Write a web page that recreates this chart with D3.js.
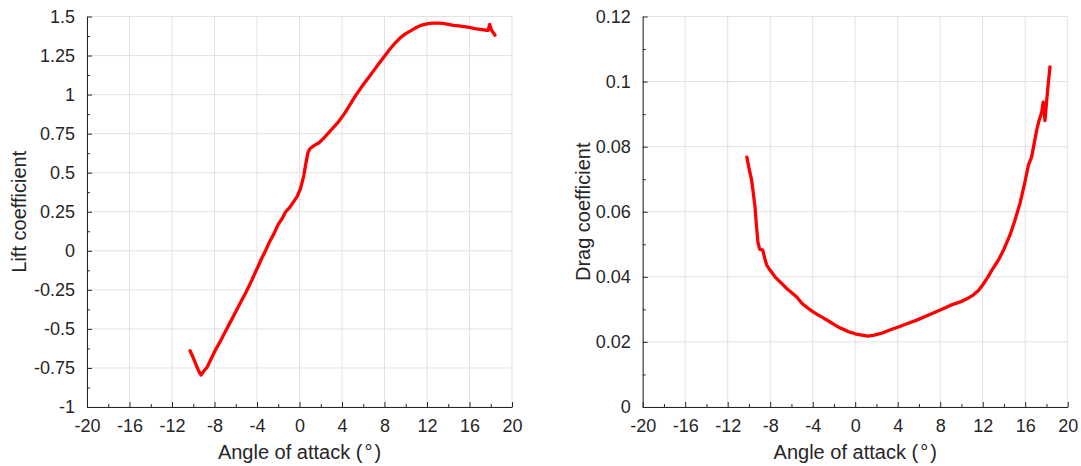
<!DOCTYPE html>
<html>
<head>
<meta charset="utf-8">
<script src="https://cdn.jsdelivr.net/npm/d3@7"></script>
<style>
html,body{margin:0;padding:0;background:#fff;}
svg{display:block;}
text{font-family:"Liberation Sans",Arial,Helvetica,sans-serif;fill:#262626;}
</style>
</head>
<body>
<svg id="chart" width="1081" height="466"></svg>
<script>
// ---- data ----
const liftAlpha = [-10.3,-10.0,-9.7,-9.45,-9.27,-9.0,-8.7,-8.3,-7.95,-7.5,-7.0,-6.5,-6.0,-5.5,-5.0,-4.5,-4.0,-3.5,-3.2,-2.8,-2.4,-2.0,-1.6,-1.3,-0.9,-0.5,-0.2,0.1,0.4,0.6,0.8,1.0,1.4,1.8,2.2,2.6,3.0,3.6,4.2,4.8,5.2,5.8,6.4,7.0,7.5,8.0,8.5,9.0,9.5,10.0,10.5,11.0,11.5,12.0,12.5,13.0,13.5,14.0,14.5,15.0,15.5,16.0,16.5,17.0,17.5,17.75,17.9,18.05,18.4];
const liftCoef = [-0.64,-0.685,-0.735,-0.775,-0.795,-0.77,-0.745,-0.69,-0.64,-0.585,-0.52,-0.455,-0.39,-0.325,-0.26,-0.19,-0.115,-0.04,0.0,0.06,0.11,0.17,0.21,0.25,0.28,0.32,0.35,0.40,0.48,0.56,0.63,0.655,0.675,0.69,0.715,0.745,0.775,0.82,0.875,0.94,0.985,1.045,1.10,1.155,1.20,1.245,1.29,1.33,1.365,1.39,1.41,1.43,1.445,1.453,1.457,1.458,1.456,1.45,1.443,1.44,1.435,1.43,1.423,1.418,1.412,1.412,1.45,1.415,1.38];

const dragAlpha = [-10.2,-10.0,-9.75,-9.6,-9.43,-9.3,-9.15,-9.0,-8.7,-8.5,-8.33,-8.0,-7.55,-7.0,-6.5,-6.0,-5.5,-5.0,-4.5,-4.0,-3.5,-3.0,-2.4,-2.0,-1.5,-1.0,-0.5,0.0,0.5,1.2,1.8,2.6,3.2,4.0,4.8,5.8,6.8,8.0,9.0,9.9,10.6,11.1,11.6,12.06,12.5,12.85,13.47,14.0,14.56,15.0,15.5,15.9,16.3,16.6,17.08,17.3,17.55,17.7,17.86,18.1,18.33];
const dragCoef = [0.0768,0.0735,0.0697,0.066,0.0615,0.056,0.0505,0.0485,0.0482,0.0455,0.0436,0.042,0.0400,0.0382,0.0366,0.0352,0.0338,0.0318,0.0305,0.0293,0.0283,0.0274,0.0262,0.0254,0.0244,0.0237,0.0230,0.0225,0.0222,0.0218,0.0221,0.0228,0.0236,0.0245,0.0255,0.0267,0.0281,0.0298,0.0313,0.0323,0.0334,0.0344,0.0358,0.0378,0.0400,0.042,0.0451,0.0485,0.0528,0.057,0.0625,0.068,0.0743,0.0768,0.085,0.088,0.0906,0.0937,0.088,0.097,0.1045];

const xTicks = [-20,-16,-12,-8,-4,0,4,8,12,16,20];
const xTickLabels = ["-20","-16","-12","-8","-4","0","4","8","12","16","20"];
const xMinorTicks = [-18,-14,-10,-6,-2,2,6,10,14,18];
const liftTicks = [-1,-0.75,-0.5,-0.25,0,0.25,0.5,0.75,1,1.25,1.5];
const liftTickLabels = ["-1","-0.75","-0.5","-0.25","0","0.25","0.5","0.75","1","1.25","1.5"];
const liftMinorTicks = [-0.875,-0.625,-0.375,-0.125,0.125,0.375,0.625,0.875,1.125,1.375];
const dragTicks = [0,0.02,0.04,0.06,0.08,0.1,0.12];
const dragTickLabels = ["0","0.02","0.04","0.06","0.08","0.1","0.12"];
const dragMinorTicks = [0.01,0.03,0.05,0.07,0.09,0.11];

// ---- drawing ----
const svg = d3.select("#chart");

function panel(cfg){
  const g = svg.append("g");
  const x = d3.scaleLinear().domain([-20,20]).range([cfg.left, cfg.right]);
  const y = d3.scaleLinear().domain(cfg.yDomain).range([cfg.bottom, cfg.top]);

  // grid
  g.append("g").selectAll("line").data(xTicks).join("line")
    .attr("x1", d=>x(d)).attr("x2", d=>x(d)).attr("y1", cfg.top).attr("y2", cfg.bottom)
    .attr("stroke","#e2e2e2").attr("stroke-width",1);
  g.append("g").selectAll("line").data(cfg.yTicks).join("line")
    .attr("y1", d=>y(d)).attr("y2", d=>y(d)).attr("x1", cfg.left).attr("x2", cfg.right)
    .attr("stroke","#e2e2e2").attr("stroke-width",1);

  // axes
  const xAxis = d3.axisBottom(x).tickValues(xTicks).tickFormat((d,i)=>xTickLabels[i]).tickSizeInner(-5).tickSizeOuter(0).tickPadding(12);
  const gx = g.append("g").attr("transform",`translate(0,${cfg.bottom})`).call(xAxis);
  gx.selectAll("text").style("font-size","18px").attr("fill","#262626").attr("dy","0.71em");
  gx.selectAll("line").attr("stroke","#262626");
  gx.select(".domain").attr("stroke","#262626");
  const xMinor = d3.axisBottom(x).tickValues(xMinorTicks).tickFormat("").tickSizeInner(-3).tickSizeOuter(0);
  const gxm = g.append("g").attr("transform",`translate(0,${cfg.bottom})`).call(xMinor);
  gxm.select(".domain").remove();
  gxm.selectAll("line").attr("stroke","#262626");

  const yAxis = d3.axisLeft(y).tickValues(cfg.yTicks).tickFormat((d,i)=>cfg.yTickLabels[i]).tickSizeInner(-5).tickSizeOuter(0).tickPadding(12);
  const gy = g.append("g").attr("transform",`translate(${cfg.left},0)`).call(yAxis);
  gy.selectAll("text").style("font-size","18px").attr("fill","#262626");
  gy.selectAll("line").attr("stroke","#262626");
  gy.select(".domain").attr("stroke","#262626");
  const yMinor = d3.axisLeft(y).tickValues(cfg.yMinor).tickFormat("").tickSizeInner(-3).tickSizeOuter(0);
  const gym = g.append("g").attr("transform",`translate(${cfg.left},0)`).call(yMinor);
  gym.select(".domain").remove();
  gym.selectAll("line").attr("stroke","#262626");

  // line
  const pts = cfg.xs.map((a,i)=>[a, cfg.ys[i]]);
  g.append("path").datum(pts)
    .attr("fill","none").attr("stroke","#ff0000").attr("stroke-width",3.3)
    .attr("stroke-linejoin","round").attr("stroke-linecap","round")
    .attr("d", d3.line().x(d=>x(d[0])).y(d=>y(d[1])));

  // labels
  const t = g.append("text").attr("x",(cfg.left+cfg.right)/2).attr("y",459)
    .attr("text-anchor","middle").style("font-size","20px");
  t.append("tspan").text("Angle of attack (");
  t.append("tspan").attr("dx",2).text("°");
  t.append("tspan").attr("dx",2).text(")");

  g.append("text").attr("transform",`translate(${cfg.ylabelX},${(cfg.top+cfg.bottom)/2}) rotate(-90)`)
    .attr("text-anchor","middle").style("font-size","20px").text(cfg.yLabel);
}

panel({left:87, right:512, top:16.5, bottom:407, yDomain:[-1,1.5], yTicks:liftTicks, yTickLabels:liftTickLabels,
  yMinor:liftMinorTicks, xs:liftAlpha, ys:liftCoef, yLabel:"Lift coefficient", ylabelX:26});
panel({left:642.7, right:1067.7, top:16.5, bottom:407, yDomain:[0,0.12], yTicks:dragTicks, yTickLabels:dragTickLabels,
  yMinor:dragMinorTicks, xs:dragAlpha, ys:dragCoef, yLabel:"Drag coefficient", ylabelX:590});
</script>
</body>
</html>
